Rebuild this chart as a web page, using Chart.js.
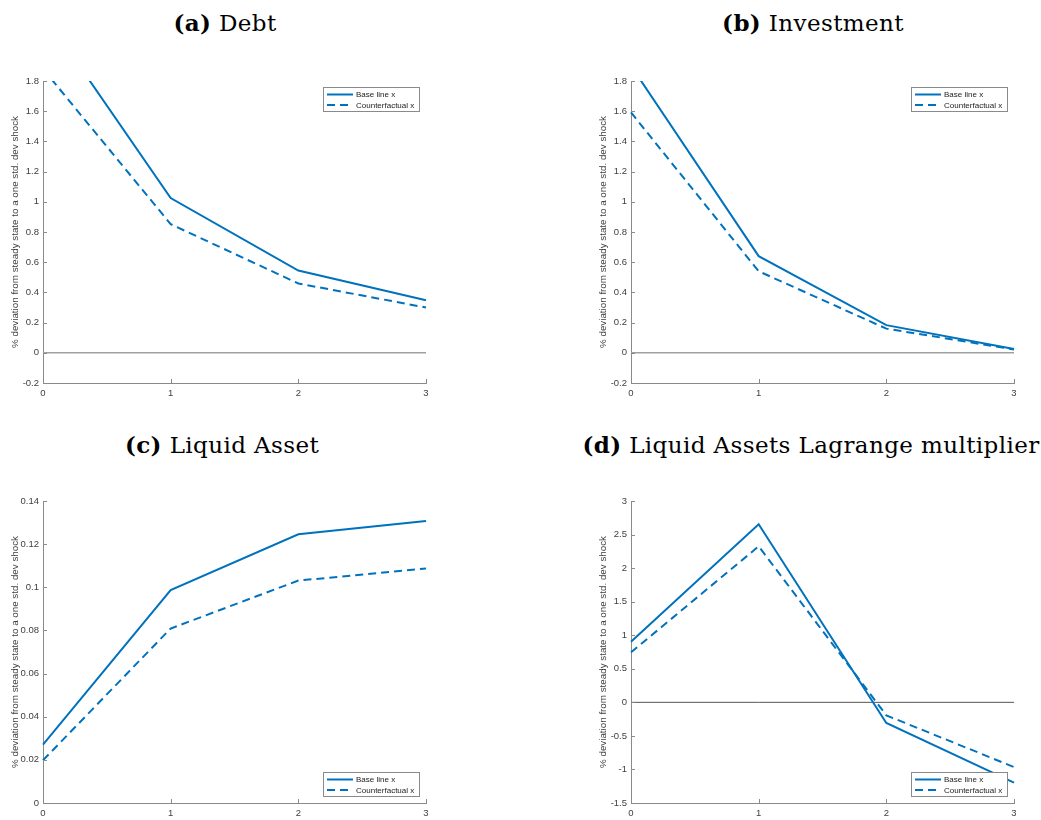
<!DOCTYPE html>
<html>
<head>
<meta charset="utf-8">
<script src="https://cdn.jsdelivr.net/npm/chart.js@4.4.1/dist/chart.umd.min.js"></script>
<style>
  html, body { margin: 0; padding: 0; background: #fff; }
  body { position: relative; width: 1041px; height: 820px; overflow: hidden; }
  .panel { position: absolute; width: 440px; height: 340px; }
  .ttl {
    position: absolute; font-family: "DejaVu Serif", serif; font-size: 23px;
    line-height: 23px; letter-spacing: 0.4px; color: #000; white-space: nowrap;
    transform: translateX(-50%);
  }
  .ttl b { font-weight: bold; }
</style>
</head>
<body>
<div class="ttl" style="left:225px; top:11px;"><b>(a)</b> Debt</div>
<div class="ttl" style="left:813px; top:11px;"><b>(b)</b> Investment</div>
<div class="ttl" style="left:222px; top:433px;"><b>(c)</b> Liquid Asset</div>
<div class="ttl" style="left:811px; top:433px;"><b>(d)</b> Liquid Assets Lagrange multiplier</div>

<canvas id="cDebt" class="panel" width="440" height="340" style="left:0px; top:70px;"></canvas>
<canvas id="cInv" class="panel" width="440" height="340" style="left:588px; top:70px;"></canvas>
<canvas id="cLiq" class="panel" width="440" height="340" style="left:0px; top:490px;"></canvas>
<canvas id="cLag" class="panel" width="440" height="340" style="left:588px; top:490px;"></canvas>

<script>
// Horizon (quarters after the shock)
const steps = ['0', '1', '2', '3'];

// Impulse responses, % deviation from steady state
const debtBase      = [2.25, 1.025, 0.545, 0.348];
const debtCounter   = [1.88, 0.852, 0.459, 0.300];
const invBase       = [1.90, 0.640, 0.183, 0.025];
const invCounter    = [1.592, 0.540, 0.160, 0.022];
const liqBase       = [0.0271, 0.0987, 0.1246, 0.1307];
const liqCounter    = [0.0198, 0.0809, 0.1031, 0.1087];
const lagBase       = [0.904, 2.653, -0.308, -1.197];
const lagCounter    = [0.745, 2.325, -0.194, -0.964];
const zeroLine      = [0, 0, 0, 0];

// Y-axis ticks and their printed labels
const ticksDebtInv   = [-0.2, 0, 0.2, 0.4, 0.6, 0.8, 1, 1.2, 1.4, 1.6, 1.8];
const labelsDebtInv  = ['-0.2', '0', '0.2', '0.4', '0.6', '0.8', '1', '1.2', '1.4', '1.6', '1.8'];
const ticksLiq       = [0, 0.02, 0.04, 0.06, 0.08, 0.1, 0.12, 0.14];
const labelsLiq      = ['0', '0.02', '0.04', '0.06', '0.08', '0.1', '0.12', '0.14'];
const ticksLag       = [-1.5, -1, -0.5, 0, 0.5, 1, 1.5, 2, 2.5, 3];
const labelsLag      = ['-1.5', '-1', '-0.5', '0', '0.5', '1', '1.5', '2', '2.5', '3'];

const seriesNames = ['Base line x', 'Counterfactual x'];
const yTitle = '% deviation from steady state to a one std. dev shock';

const BLUE = '#0072BD';
const AXIS = '#8a8a8a';
const TEXT = '#404040';
const DASH = [8, 5];
const SANS = '"Liberation Sans", Arial, sans-serif';

// Small tick marks pointing into the plot
const innerTicks = {
  id: 'innerTicks',
  afterDraw(chart) {
    const { ctx, chartArea: a, scales: { x, y } } = chart;
    ctx.save();
    ctx.strokeStyle = AXIS;
    ctx.lineWidth = 1;
    ctx.beginPath();
    y.ticks.forEach(t => {
      const py = Math.round(y.getPixelForValue(t.value)) + 0.5;
      ctx.moveTo(a.left, py); ctx.lineTo(a.left + 4, py);
    });
    x.ticks.forEach((t, i) => {
      const px = Math.round(x.getPixelForTick(i)) + 0.5;
      ctx.moveTo(px, a.bottom); ctx.lineTo(px, a.bottom - 4);
    });
    ctx.stroke();
    ctx.restore();
  }
};

// Boxed legend drawn inside the axes, top-right or bottom-right
const boxLegend = {
  id: 'boxLegend',
  afterDraw(chart, args, opts) {
    const { ctx, chartArea: a } = chart;
    const w = 96, h = 24;
    const left = a.right - 7 - w;
    const top = opts.where === 'bottom' ? a.bottom - 7 - h : a.top + 6;
    ctx.save();
    ctx.fillStyle = '#fff';
    ctx.fillRect(left, top, w, h);
    ctx.strokeStyle = '#8a8a8a';
    ctx.lineWidth = 1;
    ctx.strokeRect(Math.round(left) + 0.5, Math.round(top) + 0.5, w, h);
    const sets = chart.data.datasets.filter(d => d.label);
    sets.forEach((d, i) => {
      const ry = top + 7.5 + i * 10.5;
      ctx.strokeStyle = d.borderColor;
      ctx.lineWidth = d.borderWidth;
      ctx.setLineDash(d.borderDash || []);
      ctx.beginPath();
      ctx.moveTo(left + 4, ry); ctx.lineTo(left + 30, ry);
      ctx.stroke();
      ctx.setLineDash([]);
      ctx.fillStyle = '#222';
      ctx.font = '8px ' + SANS;
      ctx.textBaseline = 'middle';
      ctx.textAlign = 'left';
      ctx.fillText(d.label, left + 33, ry + 0.5);
    });
    ctx.restore();
  }
};

function makePanel(id, base, counter, yMin, yMax, ticks, labels, zero, legendWhere) {
  const datasets = [
    { label: seriesNames[0], data: base, borderColor: BLUE, borderWidth: 2, order: 0 },
    { label: seriesNames[1], data: counter, borderColor: BLUE, borderWidth: 2, borderDash: DASH, order: 1 }
  ];
  if (zero) {
    datasets.push({ label: '', data: zeroLine, borderColor: zero.color, borderWidth: zero.width, order: 5 });
  }
  datasets.forEach(d => { d.pointRadius = 0; d.fill = false; d.tension = 0; });

  return new Chart(document.getElementById(id), {
    type: 'line',
    data: { labels: steps, datasets },
    plugins: [innerTicks, boxLegend],
    options: {
      responsive: false,
      animation: false,
      events: [],
      layout: { padding: { top: 11, right: 14, left: 0, bottom: 0 } },
      plugins: {
        legend: { display: false },
        tooltip: { enabled: false },
        boxLegend: { where: legendWhere }
      },
      scales: {
        x: {
          type: 'category',
          offset: false,
          grid: { display: false, drawTicks: false },
          border: { display: true, color: AXIS, width: 1 },
          ticks: {
            color: TEXT, padding: 5, maxRotation: 0, autoSkip: false,
            font: { family: SANS, size: 9.5 }
          },
          afterFit(s) { s.height = 27; }
        },
        y: {
          min: yMin,
          max: yMax,
          grid: { display: false, drawTicks: false },
          border: { display: true, color: AXIS, width: 1 },
          afterBuildTicks(s) { s.ticks = ticks.map(v => ({ value: v })); },
          ticks: {
            color: TEXT, padding: 4,
            font: { family: SANS, size: 9.5 },
            callback: (v, i) => labels[i]
          },
          title: {
            display: true, text: yTitle, color: TEXT,
            font: { family: SANS, size: 9.8 },
            padding: { top: 9, bottom: 0 }
          },
          afterFit(s) { s.width = 43; }
        }
      }
    }
  });
}

makePanel('cDebt', debtBase, debtCounter, -0.2, 1.8, ticksDebtInv, labelsDebtInv,
  { color: '#a0a0a0', width: 1.5 }, 'top');
makePanel('cInv', invBase, invCounter, -0.2, 1.8, ticksDebtInv, labelsDebtInv,
  { color: '#a0a0a0', width: 1.5 }, 'top');
makePanel('cLiq', liqBase, liqCounter, 0, 0.14, ticksLiq, labelsLiq, null, 'bottom');
makePanel('cLag', lagBase, lagCounter, -1.5, 3, ticksLag, labelsLag,
  { color: '#555555', width: 1 }, 'bottom');
</script>
</body>
</html>
